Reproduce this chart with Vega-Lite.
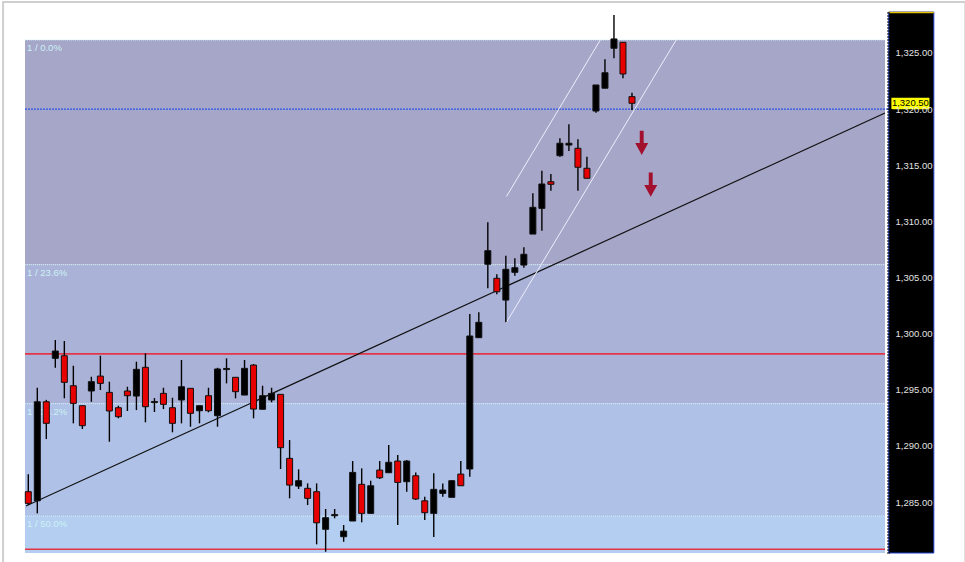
{
  "$schema": "https://vega.github.io/schema/vega-lite/v6.json",
  "width": 910,
  "height": 541,
  "autosize": {"type": "none"},
  "padding": {"left": 25, "top": 12, "right": 30, "bottom": 9},
  "background": "#ffffff",
  "config": {"view": {"stroke": null}},
  "datasets": {
    "candles": [
      {"i":1,"o":1285.92,"h":1287.47,"l":1284.73,"c":1284.88},
      {"i":2,"o":1285.11,"h":1295.18,"l":1283.99,"c":1293.93},
      {"i":3,"o":1293.93,"h":1294.1,"l":1290.61,"c":1292.01},
      {"i":4,"o":1297.8,"h":1299.43,"l":1296.96,"c":1298.45},
      {"i":5,"o":1298.03,"h":1299.34,"l":1294.24,"c":1295.66},
      {"i":6,"o":1295.36,"h":1297.14,"l":1292.01,"c":1293.79},
      {"i":7,"o":1293.58,"h":1293.6,"l":1291.5,"c":1291.8},
      {"i":8,"o":1294.89,"h":1296.16,"l":1293.93,"c":1295.72},
      {"i":9,"o":1296.22,"h":1298.03,"l":1294.98,"c":1295.57},
      {"i":10,"o":1294.77,"h":1295.72,"l":1290.37,"c":1293.11},
      {"i":11,"o":1293.4,"h":1293.58,"l":1292.46,"c":1292.6},
      {"i":12,"o":1294.89,"h":1295.27,"l":1293.11,"c":1294.47},
      {"i":13,"o":1294.44,"h":1297.5,"l":1293.19,"c":1296.82},
      {"i":14,"o":1297.0,"h":1298.25,"l":1292.1,"c":1293.49},
      {"i":15,"o":1293.85,"h":1294.26,"l":1293.02,"c":1293.95},
      {"i":16,"o":1294.68,"h":1295.18,"l":1293.28,"c":1293.7},
      {"i":17,"o":1293.4,"h":1294.29,"l":1291.21,"c":1292.01},
      {"i":18,"o":1294.09,"h":1297.65,"l":1292.01,"c":1295.27},
      {"i":19,"o":1295.13,"h":1295.13,"l":1291.71,"c":1292.9},
      {"i":20,"o":1293.13,"h":1293.58,"l":1292.01,"c":1293.58},
      {"i":21,"o":1294.47,"h":1295.18,"l":1292.99,"c":1293.13},
      {"i":22,"o":1292.69,"h":1296.96,"l":1291.71,"c":1296.85},
      {"i":23,"o":1296.8,"h":1297.8,"l":1295.57,"c":1296.9},
      {"i":24,"o":1296.11,"h":1296.11,"l":1294.24,"c":1294.83},
      {"i":25,"o":1294.53,"h":1297.65,"l":1294.53,"c":1296.91},
      {"i":26,"o":1297.2,"h":1297.29,"l":1292.46,"c":1293.28},
      {"i":27,"o":1293.26,"h":1295.36,"l":1293.26,"c":1294.47},
      {"i":28,"o":1294.09,"h":1295.18,"l":1293.88,"c":1294.68},
      {"i":29,"o":1294.59,"h":1294.59,"l":1287.94,"c":1289.84},
      {"i":30,"o":1288.89,"h":1290.52,"l":1285.33,"c":1286.51},
      {"i":31,"o":1286.42,"h":1287.91,"l":1286.16,"c":1286.9},
      {"i":32,"o":1286.22,"h":1286.66,"l":1284.73,"c":1285.33},
      {"i":33,"o":1285.92,"h":1286.66,"l":1281.23,"c":1283.15},
      {"i":34,"o":1282.57,"h":1284.38,"l":1280.57,"c":1283.6},
      {"i":35,"o":1283.78,"h":1284.38,"l":1283.55,"c":1283.88},
      {"i":36,"o":1281.91,"h":1282.95,"l":1281.46,"c":1282.41},
      {"i":37,"o":1283.31,"h":1288.65,"l":1283.31,"c":1287.64},
      {"i":38,"o":1286.58,"h":1288.0,"l":1283.19,"c":1283.99},
      {"i":39,"o":1283.99,"h":1286.9,"l":1283.99,"c":1286.45},
      {"i":40,"o":1287.85,"h":1288.65,"l":1287.05,"c":1287.16},
      {"i":41,"o":1287.61,"h":1290.08,"l":1287.61,"c":1288.54},
      {"i":42,"o":1288.65,"h":1289.19,"l":1282.95,"c":1286.75},
      {"i":43,"o":1286.81,"h":1288.74,"l":1285.92,"c":1288.65},
      {"i":44,"o":1287.34,"h":1287.64,"l":1285.18,"c":1285.27},
      {"i":45,"o":1285.11,"h":1285.47,"l":1283.4,"c":1284.05},
      {"i":46,"o":1283.99,"h":1287.56,"l":1281.88,"c":1286.13},
      {"i":47,"o":1285.77,"h":1286.66,"l":1285.47,"c":1286.07},
      {"i":48,"o":1285.42,"h":1286.95,"l":1285.42,"c":1286.9},
      {"i":49,"o":1287.49,"h":1288.65,"l":1286.45,"c":1286.45},
      {"i":50,"o":1287.94,"h":1301.75,"l":1287.25,"c":1299.79},
      {"i":51,"o":1299.64,"h":1301.9,"l":1299.64,"c":1301.01},
      {"i":52,"o":1306.18,"h":1309.92,"l":1304.04,"c":1307.39},
      {"i":53,"o":1304.93,"h":1305.28,"l":1303.5,"c":1303.73},
      {"i":54,"o":1302.99,"h":1306.94,"l":1301.01,"c":1305.73},
      {"i":55,"o":1305.46,"h":1306.71,"l":1305.16,"c":1305.87},
      {"i":56,"o":1306.11,"h":1307.69,"l":1305.87,"c":1307.07},
      {"i":57,"o":1308.87,"h":1312.5,"l":1308.87,"c":1311.25},
      {"i":58,"o":1311.16,"h":1314.51,"l":1309.17,"c":1313.33},
      {"i":59,"o":1313.53,"h":1314.22,"l":1312.73,"c":1313.3},
      {"i":60,"o":1315.85,"h":1317.4,"l":1315.76,"c":1316.96},
      {"i":61,"o":1316.8,"h":1318.65,"l":1316.27,"c":1316.96},
      {"i":62,"o":1316.51,"h":1317.31,"l":1312.73,"c":1314.82},
      {"i":63,"o":1314.73,"h":1315.76,"l":1313.84,"c":1313.84},
      {"i":64,"o":1319.83,"h":1322.15,"l":1319.68,"c":1322.15},
      {"i":65,"o":1321.86,"h":1324.44,"l":1321.86,"c":1323.24},
      {"i":66,"o":1325.42,"h":1328.39,"l":1324.53,"c":1326.25},
      {"i":67,"o":1325.95,"h":1325.95,"l":1322.75,"c":1323.13},
      {"i":68,"o":1321.11,"h":1321.46,"l":1319.92,"c":1320.52}
    ],
    "bands": [
      {"band":"0-23.6","hi":1326.16,"lo":1306.14},
      {"band":"23.6-38.2","hi":1306.14,"lo":1293.76},
      {"band":"38.2-50","hi":1293.76,"lo":1283.75},
      {"band":"50-61.8","hi":1283.75,"lo":1273.74}
    ],
    "fib": [
      {"label":"1 / 0.0%","p":1326.16},
      {"label":"1 / 23.6%","p":1306.14},
      {"label":"1 / 38.2%","p":1293.76},
      {"label":"1 / 50.0%","p":1283.75}
    ],
    "redlines": [
      {"p":1298.2},
      {"p":1280.8}
    ],
    "blueline": [
      {"p":1320.0}
    ],
    "trend": [
      {"i":0.745,"p":1284.64},
      {"i":96.08,"p":1319.65}
    ],
    "channel": [
      {"line":"lower","i":54.02,"p":1300.95},
      {"line":"lower","i":72.94,"p":1326.2},
      {"line":"upper","i":54.07,"p":1312.22},
      {"line":"upper","i":64.51,"p":1326.2}
    ],
    "arrows": [
      {"i":69.08,"p":1317.0},
      {"i":70.08,"p":1313.27}
    ],
    "last": [
      {"p":1320.5,"label":"1,320.50"}
    ]
  },
  "layer": [
    {
      "data": {"values": [{}]},
      "mark": {"type": "rect", "fill": null, "fillOpacity": 0, "stroke": "#cfcfcf", "strokeWidth": 2, "clip": false},
      "encoding": {
        "x": {"datum": -1.8, "type": "quantitative", "scale": {"domain": [0.634, 101.63], "nice": false, "zero": false, "padding": 0}, "axis": null},
        "x2": {"datum": 105.0},
        "y": {"datum": 1329.55, "type": "quantitative", "scale": {"domain": [1280.46, 1328.65], "nice": false, "zero": false},
              "axis": {"orient": "right", "offset": -47, "zindex": 2, "values": [1285, 1290, 1295, 1300, 1305, 1310, 1315, 1320, 1325],
                       "format": ",.2f", "title": null, "grid": false, "labelAlign": "left", "labelPadding": 3,
                       "labelColor": "#e2e2e2", "labelFont": "Liberation Sans, Arial, sans-serif", "labelFontSize": 9.5,
                       "tickColor": "#000000", "tickSize": 4, "tickWidth": 1, "domainColor": "#000000", "domainDash": [1, 2], "domainWidth": 3, "labelOverlap": false}},
        "y2": {"datum": 1278.5}
      }
    },
    {
      "data": {"name": "bands"},
      "mark": {"type": "rect", "clip": true},
      "encoding": {
        "x": {"datum": 0.634, "type": "quantitative"},
        "x2": {"datum": 96.08},
        "y": {"field": "hi", "type": "quantitative"},
        "y2": {"field": "lo"},
        "color": {"field": "band", "type": "nominal", "legend": null,
                  "scale": {"domain": ["0-23.6", "23.6-38.2", "38.2-50", "50-61.8"], "range": ["#a6a6c9", "#aab2d8", "#afc1e6", "#b4cef1"]}}
      }
    },
    {
      "data": {"name": "fib"},
      "mark": {"type": "rule", "color": "#cdeff5", "strokeDash": [1, 1], "strokeWidth": 1},
      "encoding": {
        "x": {"datum": 0.634, "type": "quantitative"},
        "x2": {"datum": 96.08},
        "y": {"field": "p", "type": "quantitative"}
      }
    },
    {
      "data": {"name": "fib"},
      "mark": {"type": "text", "align": "left", "baseline": "top", "dx": 2, "dy": 3, "color": "#ccf2f4", "font": "Liberation Sans, Arial, sans-serif", "fontSize": 9.5},
      "encoding": {
        "x": {"datum": 0.634, "type": "quantitative"},
        "y": {"field": "p", "type": "quantitative"},
        "text": {"field": "label"}
      }
    },
    {
      "data": {"name": "redlines"},
      "mark": {"type": "rule", "color": "#e23646", "strokeWidth": 1.6},
      "encoding": {
        "x": {"datum": 0.634, "type": "quantitative"},
        "x2": {"datum": 96.08},
        "y": {"field": "p", "type": "quantitative"}
      }
    },
    {
      "data": {"name": "blueline"},
      "mark": {"type": "rule", "color": "#2a52e8", "strokeWidth": 1.2, "strokeDash": [2, 1]},
      "encoding": {
        "x": {"datum": 0.634, "type": "quantitative"},
        "x2": {"datum": 96.4},
        "y": {"field": "p", "type": "quantitative"}
      }
    },
    {
      "data": {"name": "trend"},
      "mark": {"type": "line", "color": "#111111", "strokeWidth": 1.2},
      "encoding": {
        "x": {"field": "i", "type": "quantitative"},
        "y": {"field": "p", "type": "quantitative"}
      }
    },
    {
      "data": {"name": "channel"},
      "mark": {"type": "line", "color": "#eeeefa", "strokeWidth": 1},
      "encoding": {
        "x": {"field": "i", "type": "quantitative"},
        "y": {"field": "p", "type": "quantitative"},
        "detail": {"field": "line"}
      }
    },
    {
      "data": {"name": "candles"},
      "mark": {"type": "rule", "color": "#000000", "strokeWidth": 1.4},
      "encoding": {
        "x": {"field": "i", "type": "quantitative"},
        "y": {"field": "l", "type": "quantitative"},
        "y2": {"field": "h"}
      }
    },
    {
      "data": {"name": "candles"},
      "mark": {"type": "bar", "size": 6, "stroke": "#111111", "strokeWidth": 1},
      "encoding": {
        "x": {"field": "i", "type": "quantitative"},
        "y": {"field": "o", "type": "quantitative"},
        "y2": {"field": "c"},
        "color": {"condition": {"test": "datum.c < datum.o", "value": "#e80000"}, "value": "#000000"}
      }
    },
    {
      "data": {"name": "arrows"},
      "mark": {"type": "point", "filled": true, "color": "#a3102e", "opacity": 1, "size": 676,
               "shape": "M-0.15,-0.93L0.15,-0.93L0.15,0.02L0.5,0.02L0,0.93L-0.5,0.02L-0.15,0.02Z"},
      "encoding": {
        "x": {"field": "i", "type": "quantitative"},
        "y": {"field": "p", "type": "quantitative"}
      }
    },
    {
      "data": {"values": [{}]},
      "mark": {"type": "rect", "color": "#000000", "stroke": "#1c3fcc", "strokeWidth": 1},
      "encoding": {
        "x": {"datum": 96.5, "type": "quantitative"},
        "x2": {"datum": 101.5},
        "y": {"datum": 1280.46, "type": "quantitative"},
        "y2": {"datum": 1328.65}
      }
    },
    {
      "data": {"values": [{}]},
      "mark": {"type": "rule", "color": "#e8c400", "strokeWidth": 1.5},
      "encoding": {
        "x": {"datum": 96.5, "type": "quantitative"},
        "x2": {"datum": 101.5},
        "y": {"datum": 1328.6, "type": "quantitative"}
      }
    },
    {
      "data": {"name": "last"},
      "mark": {"type": "point", "filled": true, "color": "#ffff00", "opacity": 1, "size": 1444,
               "shape": "M-1,-0.3L1,-0.3L1,0.3L-1,0.3Z"},
      "encoding": {
        "x": {"datum": 98.9, "type": "quantitative"},
        "y": {"field": "p", "type": "quantitative"}
      }
    },
    {
      "data": {"name": "last"},
      "mark": {"type": "text", "color": "#000000", "font": "Liberation Sans, Arial, sans-serif", "fontSize": 9.5, "align": "center", "baseline": "middle"},
      "encoding": {
        "x": {"datum": 98.9, "type": "quantitative"},
        "y": {"field": "p", "type": "quantitative"},
        "text": {"field": "label"}
      }
    }
  ]
}
